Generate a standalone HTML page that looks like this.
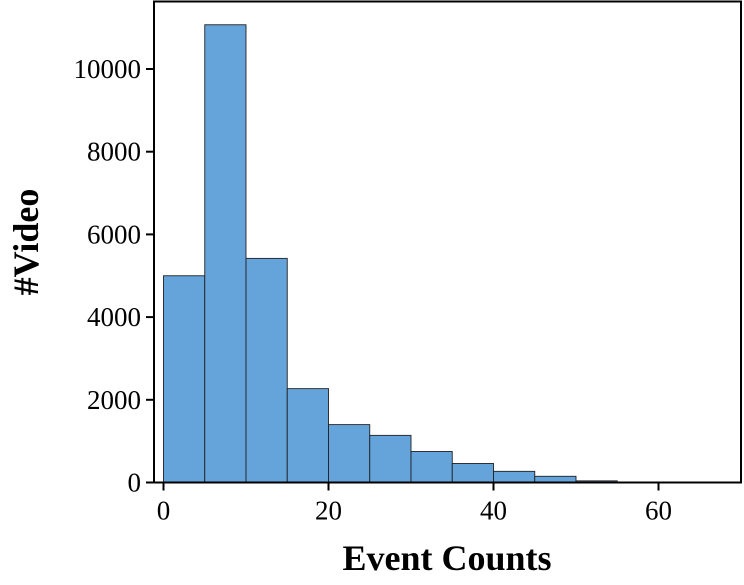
<!DOCTYPE html>
<html><head><meta charset="utf-8"><style>
body{margin:0;background:#fff}
svg{display:block;font-family:"Liberation Serif",serif}
</style></head><body>
<svg id="chart" width="744" height="585">
<g id="bars"></g>
<g id="axes"></g>
</svg>
<script>
const binStarts=[0,5,10,15,20,25,30,35,40,45,50,55,60,65];
const counts=[5000,11070,5420,2270,1400,1140,750,460,270,150,40,10,3,1];
const xTicks=[0,20,40,60];
const yTicks=[0,2000,4000,6000,8000,10000];
const binWidth=5;
const L=154,R=741,T=1.5,B=482.5;
const xs=v=>163.5+v*8.25;
const ys=v=>B-v*0.04135;
const NS="http://www.w3.org/2000/svg";
function mk(tag,attrs,parent){const e=document.createElementNS(NS,tag);for(const k in attrs)e.setAttribute(k,attrs[k]);parent.appendChild(e);return e;}
const bars=document.getElementById('bars'),axes=document.getElementById('axes');
binStarts.forEach((b,i)=>{
 const x0=xs(b),x1=xs(b+binWidth),y=ys(counts[i]);
 const r=mk('rect',{x:x0,y:y,width:x1-x0,height:B-y,fill:'#65a3db',stroke:'#222','stroke-width':0.9},bars);
 
 
});
const fr=mk('rect',{x:L,y:T,width:R-L,height:B-T,fill:'none',stroke:'#000','stroke-width':2},axes);


xTicks.forEach(v=>{
 mk('line',{x1:xs(v),x2:xs(v),y1:B,y2:B+8,stroke:'#000','stroke-width':2},axes);
 const t=mk('text',{x:xs(v),y:B+37,'text-anchor':'middle','font-size':27},axes);
 t.textContent=v;
 
 
});
yTicks.forEach(v=>{
 mk('line',{x1:L-8,x2:L,y1:ys(v),y2:ys(v),stroke:'#000','stroke-width':2},axes);
 const t=mk('text',{x:L-13,y:ys(v)+9,'text-anchor':'end','font-size':27},axes);
 t.textContent=v;
 
 
});
const xt=mk('text',{x:447,y:570,'text-anchor':'middle','font-size':36,'font-weight':'bold'},axes);
xt.textContent='Event Counts';


const yt=mk('text',{x:0,y:0,'text-anchor':'middle','font-size':36,'font-weight':'bold',transform:'translate(38,242) rotate(-90)'},axes);
yt.textContent='#Video';


</script>
</body></html>
